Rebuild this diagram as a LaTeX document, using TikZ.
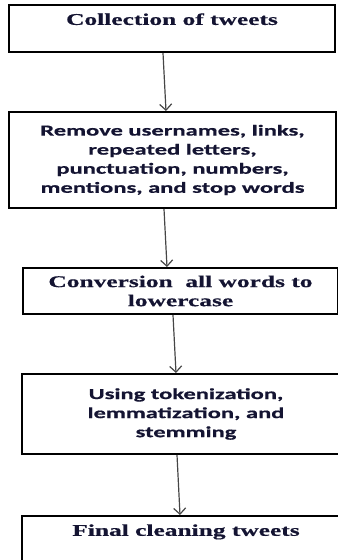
\documentclass[tikz,border=0pt]{standalone}
\usepackage{fontspec}
\usetikzlibrary{arrows.meta}
\newfontfamily\boxserif{Liberation Serif}[FakeStretch=1.55,BoldFeatures={FakeBold=0.6}]
\newfontfamily\boxsans{Carlito}[FakeStretch=1.6,BoldFeatures={FakeBold=0.6}]
\definecolor{inkblue}{RGB}{20,20,50}
\definecolor{flowgray}{RGB}{70,70,70}
\begin{document}
\begin{tikzpicture}[x=0.75pt,y=-0.75pt,
  stepbox/.style={draw=black,line width=1.5pt,text=inkblue,align=center,inner sep=0pt},
  serifbox/.style={stepbox,font=\boxserif\bfseries\fontsize{12.3}{14.3}\selectfont},
  sansbox/.style={stepbox,font=\boxsans\bfseries\fontsize{11.5}{14.3}\selectfont},
  flow/.style={draw=flowgray,line width=0.9pt,-{Straight Barb[length=4.5pt,width=9pt]}}]
\useasboundingbox (0,0) rectangle (338,560);

% the five cleaning steps
\node[serifbox,minimum width=244.5pt,minimum height=35.25pt] (collect) at (172,28.5)
  {Collection of tweets\\[-4.5pt]\strut};
\node[sansbox,minimum width=245.25pt,minimum height=72pt] (remove) at (172.5,160)
  {Remove usernames, links,\\repeated letters,\\punctuation, numbers,\\mentions, and stop words};
\node[serifbox,minimum width=236.25pt,minimum height=34.5pt] (lower) at (180.5,291)
  {Conversion~ all words to\\lowercase};
\node[sansbox,minimum width=246pt,minimum height=60pt] (token) at (186,414)
  {Using tokenization,\\lemmatization, and\\stemming};
\node[serifbox,minimum width=246pt,minimum height=35.25pt] (final) at (186,539.5)
  {Final cleaning tweets\\[-4.5pt]\strut};

% arrows between the steps
\draw[flow] ([shift={(-9,0)}]collect.south) -- ([shift={(-6.5,0)}]remove.north);
\draw[flow] ([shift={(-8.5,0)}]remove.south) -- ([shift={(-13.5,0)}]lower.north);
\draw[flow] ([shift={(-7.5,0)}]lower.south) -- ([shift={(-10,0)}]token.north);
\draw[flow] ([shift={(-9,0)}]token.south) -- ([shift={(-6,0)}]final.north);
\end{tikzpicture}
\end{document}
